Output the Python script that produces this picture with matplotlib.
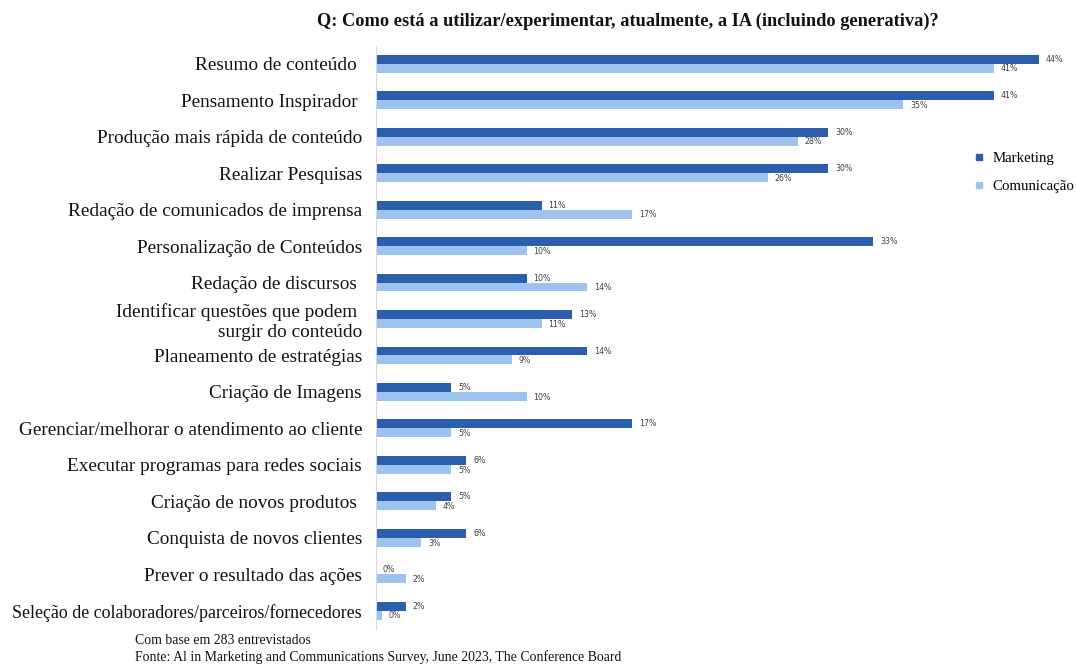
import matplotlib
matplotlib.use("Agg")
import matplotlib.pyplot as plt
import numpy as np
from matplotlib.lines import Line2D

categories = [
    "Resumo de conteúdo ",
    "Pensamento Inspirador ",
    "Produção mais rápida de conteúdo",
    "Realizar Pesquisas",
    "Redação de comunicados de imprensa",
    "Personalização de Conteúdos",
    "Redação de discursos ",
    "Identificar questões que podem \nsurgir do conteúdo",
    "Planeamento de estratégias",
    "Criação de Imagens",
    "Gerenciar/melhorar o atendimento ao cliente",
    "Executar programas para redes sociais",
    "Criação de novos produtos ",
    "Conquista de novos clientes",
    "Prever o resultado das ações",
    "Seleção de colaboradores/parceiros/fornecedores",
]
marketing = [44, 41, 30, 30, 11, 33, 10, 13, 14, 5, 17, 6, 5, 6, 0, 2]
comunicacao = [41, 35, 28, 26, 17, 10, 14, 11, 9, 10, 5, 5, 4, 3, 2, 0.4]
series_names = ["Marketing", "Comunicação"]
title = "Q: Como está a utilizar/experimentar, atualmente, a IA (incluindo generativa)?"
footnote = ["Com base em 283 entrevistados",
            "Fonte: Al in Marketing and Communications Survey, June 2023, The Conference Board"]

c_mkt = "#2B5FAD"
c_com = "#9DC3EE"
W, H = 1076, 664
fig = plt.figure(figsize=(W / 100, H / 100), dpi=100)
serif = ["Liberation Serif", "DejaVu Serif"]

ax_l, ax_r = 376, 1060
ax_t, ax_b = 45.5, 629
ax = fig.add_axes([ax_l / W, 1 - ax_b / H, (ax_r - ax_l) / W, (ax_b - ax_t) / H])

n = len(categories)
y = np.arange(n)
bh = 0.245
ax.barh(y - bh / 2, marketing, height=bh, color=c_mkt, label=series_names[0])
ax.barh(y + bh / 2, comunicacao, height=bh, color=c_com, label=series_names[1])

px_per_unit = 15.07
ax.set_xlim(0, (ax_r - ax_l) / px_per_unit)
ax.set_ylim(n - 0.5, -0.5)

for i in range(n):
    ax.text(marketing[i] + 0.45, y[i] - bh / 2, f"{round(marketing[i])}%", fontsize=5.7,
            color="#404040", va="center", ha="left", family="DejaVu Sans")
    ax.text(comunicacao[i] + 0.45, y[i] + bh / 2 + 0.02, f"{round(comunicacao[i])}%", fontsize=5.7,
            color="#404040", va="center", ha="left", family="DejaVu Sans")

ax.set_yticks(y)
labels = ax.set_yticklabels(categories, family=serif, fontsize=13.9, color="#111111",
                            multialignment="right")
labels[-1].set_fontsize(12.9)
ax.tick_params(axis="y", length=0, pad=10)
ax.set_xticks([])
for s in ["top", "right", "bottom"]:
    ax.spines[s].set_visible(False)
ax.spines["left"].set_color("#d9d9d9")
ax.spines["left"].set_linewidth(0.8)

handles = [Line2D([0], [0], marker="s", linestyle="none", color=c_mkt, markersize=4),
           Line2D([0], [0], marker="s", linestyle="none", color=c_com, markersize=4)]
fig.legend(handles, series_names, loc="upper left", bbox_to_anchor=(958 / W, 1 - 138 / H),
           frameon=False, prop={"family": serif, "size": 10.7}, handletextpad=0.4,
           labelspacing=1.0, handlelength=1.0)

fig.text(628 / W, 1 - 21 / H, title, ha="center", va="center", family=serif,
         fontsize=13.2, fontweight="bold", color="#111111")
fig.text(135 / W, 1 - 641 / H, footnote[0], ha="left", va="center", family=serif,
         fontsize=9.9, color="#111111")
fig.text(135 / W, 1 - 657 / H, footnote[1], ha="left", va="center", family=serif,
         fontsize=9.9, color="#111111")

fig.savefig("out.png", dpi=100)
